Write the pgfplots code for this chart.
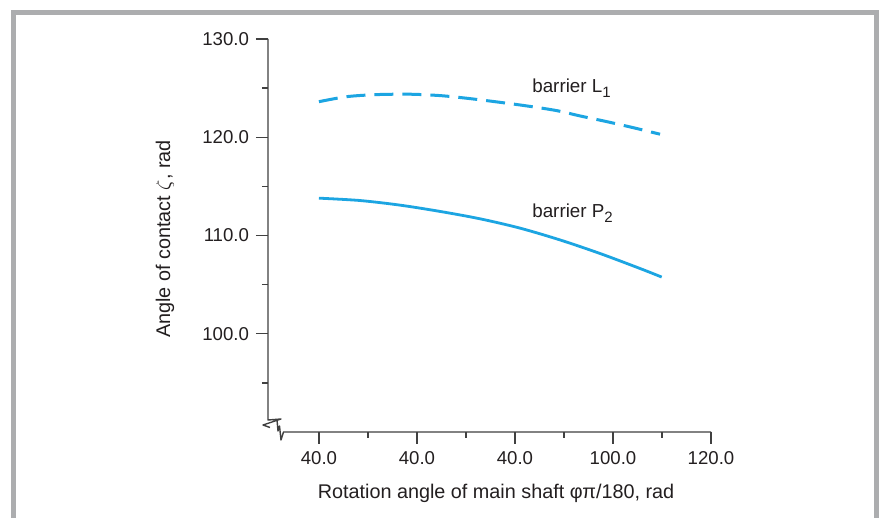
\documentclass[border=0pt]{standalone}
\usepackage{pgfplots}
\pgfplotsset{compat=1.18}
\usepackage{fontspec}
\setmainfont{Liberation Sans}
\definecolor{curve}{RGB}{28,165,226}
\definecolor{axisgray}{RGB}{64,64,64}
\definecolor{framegray}{RGB}{172,173,175}
\definecolor{textblack}{RGB}{35,31,32}
\newcommand{\sub}[1]{\raisebox{-0.45ex}{\fontsize{7.5}{8}\selectfont #1}}

\begin{document}
\begin{tikzpicture}
\useasboundingbox (0,0) rectangle (439.5pt,259pt);
\fill[white] (0,0) rectangle (439.5pt,259pt);
% grey frame round the figure
\draw[framegray, line width=2.5pt] (6.5pt,0) -- (6.5pt,252.5pt) -- (438.25pt,252.5pt) -- (438.25pt,0);
\begin{axis}[
  at={(134pt,43pt)}, anchor=south west,
  scale only axis, width=221.5pt, height=196.5pt,
  xmin=0.48, xmax=5, ymin=90, ymax=130,
  axis x line*=bottom, axis y line*=left,
  axis line style={draw=none},
  tick align=outside,
  major tick length=6pt, minor tick length=3pt,
  tick style={axisgray, line width=0.7pt},
  xtick={1,2,3,4,5}, xticklabels={40.0,40.0,40.0,100.0,120.0},
  minor xtick={1.5,2.5,3.5,4.5},
  ytick={100,110,120,130}, yticklabels={100.0,110.0,120.0,130.0},
  minor ytick={95,105,115,125},
  ticklabel style={font=\fontsize{9.3}{11}\selectfont, text=textblack},
  xlabel={Rotation angle of main shaft φπ/180, rad},
  ylabel={Angle of contact $\zeta$, rad},
  label style={font=\fontsize{9.9}{12}\selectfont, text=textblack},
  xlabel style={at={(axis description cs:0.5147,-0.168)}, anchor=base},
  ylabel style={at={(axis description cs:-0.2325,0.491)}, anchor=center},
  clip=false,
]
% barrier L1 (dashed)
\addplot[curve, line width=1.5pt, dash pattern=on 9.5pt off 4.5pt, smooth] coordinates {
  (1.000,123.62) (1.283,124.13) (1.589,124.34) (1.929,124.38) (2.235,124.24)
  (2.507,123.97) (2.796,123.62) (3.119,123.19) (3.426,122.71) (3.663,122.17)
  (3.936,121.59) (4.204,120.98) (4.480,120.31)
};
% barrier P2 (solid)
\addplot[curve, line width=1.4pt, smooth] coordinates {
  (1.000,113.80) (1.418,113.56) (1.827,113.09) (2.235,112.45) (2.643,111.70)
  (3.051,110.75) (3.459,109.55) (3.867,108.17) (4.276,106.64) (4.497,105.77)
};
\node[anchor=base west, font=\fontsize{9.4}{11}\selectfont, text=textblack, inner sep=0pt]
  at (axis cs:3.173,124.51) {barrier L\sub{1}};
\node[anchor=base west, font=\fontsize{9.4}{11}\selectfont, text=textblack, inner sep=0pt]
  at (axis cs:3.173,111.80) {barrier P\sub{2}};
\end{axis}
% axis lines with the break at the corner
\draw[axisgray, line width=0.7pt, line join=round]
  (134pt,239.5pt) -- (134pt,49pt) -- (140.5pt,49.5pt) -- (131.5pt,46.5pt) -- (135pt,45.25pt);
\draw[axisgray, line width=0.7pt, line join=round]
  (138.5pt,49pt) -- (139pt,43.5pt) -- (139.75pt,46pt) -- (140.5pt,39pt) -- (141.75pt,43pt) -- (355.5pt,43pt);
\end{tikzpicture}
\end{document}
